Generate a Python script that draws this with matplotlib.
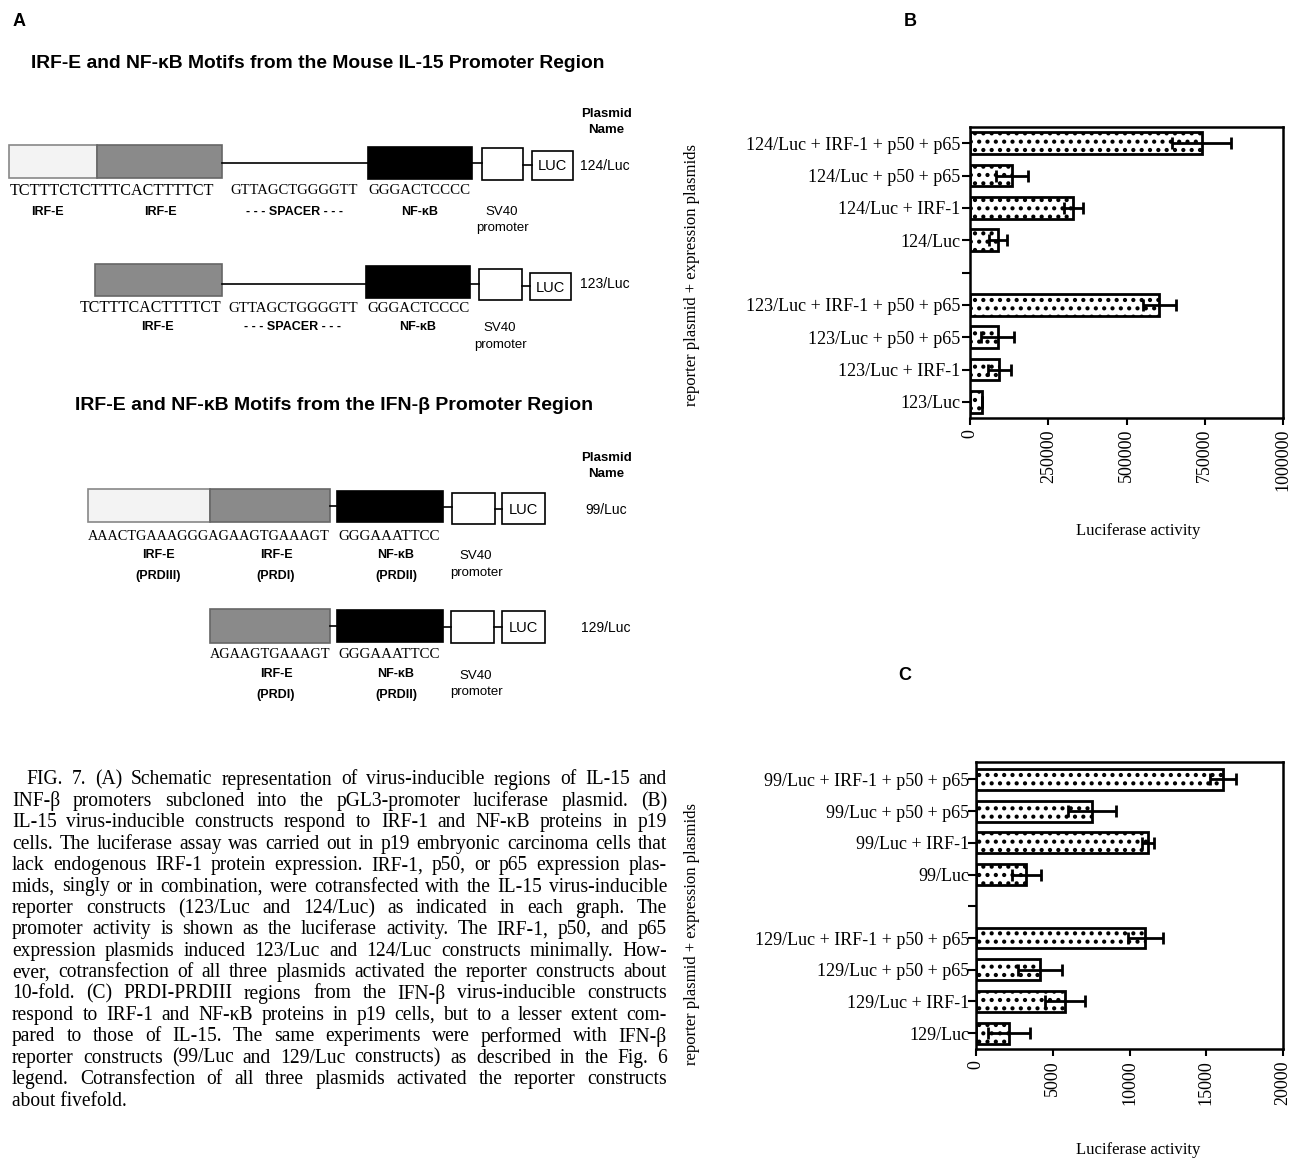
import numpy as np
import matplotlib.pyplot as plt
from matplotlib.patches import Rectangle

SERIF = 'Liberation Serif'
SANS = 'Liberation Sans'
plt.rcParams['hatch.linewidth'] = 1.8

# ---- panel B data (IL-15 constructs) ----
b_labels = ['124/Luc + IRF-1 + p50 + p65', '124/Luc + p50 + p65', '124/Luc + IRF-1', '124/Luc',
            '123/Luc + IRF-1 + p50 + p65', '123/Luc + p50 + p65', '123/Luc + IRF-1', '123/Luc']
b_values = [740000, 134000, 330000, 90000, 605000, 88000, 94000, 38000]
b_errors = [94000, 50000, 31000, 28000, 52000, 52000, 38000, 0]
b_ticks = [0, 250000, 500000, 750000, 1000000]

# ---- panel C data (IFN-beta constructs) ----
c_labels = ['99/Luc + IRF-1 + p50 + p65', '99/Luc + p50 + p65', '99/Luc + IRF-1', '99/Luc',
            '129/Luc + IRF-1 + p50 + p65', '129/Luc + p50 + p65', '129/Luc + IRF-1', '129/Luc']
c_values = [16100, 7560, 11210, 3280, 11030, 4170, 5810, 2140]
c_errors = [850, 1550, 400, 950, 1150, 1450, 1300, 1350]
c_ticks = [0, 5000, 10000, 15000, 20000]

caption = [
    "FIG. 7. (A) Schematic representation of virus-inducible regions of IL-15 and",
    "INF-\u03b2 promoters subcloned into the pGL3-promoter luciferase plasmid. (B)",
    "IL-15 virus-inducible constructs respond to IRF-1 and NF-\u03baB proteins in p19",
    "cells. The luciferase assay was carried out in p19 embryonic carcinoma cells that",
    "lack endogenous IRF-1 protein expression. IRF-1, p50, or p65 expression plas-",
    "mids, singly or in combination, were cotransfected with the IL-15 virus-inducible",
    "reporter constructs (123/Luc and 124/Luc) as indicated in each graph. The",
    "promoter activity is shown as the luciferase activity. The IRF-1, p50, and p65",
    "expression plasmids induced 123/Luc and 124/Luc constructs minimally. How-",
    "ever, cotransfection of all three plasmids activated the reporter constructs about",
    "10-fold. (C) PRDI-PRDIII regions from the IFN-\u03b2 virus-inducible constructs",
    "respond to IRF-1 and NF-\u03baB proteins in p19 cells, but to a lesser extent com-",
    "pared to those of IL-15. The same experiments were performed with IFN-\u03b2",
    "reporter constructs (99/Luc and 129/Luc constructs) as described in the Fig. 6",
    "legend. Cotransfection of all three plasmids activated the reporter constructs",
    "about fivefold.",
]

fig = plt.figure(figsize=(12.97, 11.61), dpi=100)
ax0 = fig.add_axes([0, 0, 1, 1])
ax0.set_xlim(0, 1297)
ax0.set_ylim(1161, 0)
ax0.axis('off')
renderer = fig.canvas.get_renderer()


def fit(x0, x1, y, s, **kw):
    t = ax0.text(x0, y, s, fontsize=10, va='center', **kw)
    w = t.get_window_extent(renderer).width
    t.set_fontsize(10 * (x1 - x0) / w)
    return t


def box(x0, x1, y0, y1, fc, ec='black', lw=1.2, label=None):
    ax0.add_patch(Rectangle((x0, y0), x1 - x0, y1 - y0, facecolor=fc, edgecolor=ec, linewidth=lw))
    if label:
        ax0.text((x0 + x1) / 2, (y0 + y1) / 2 + 1, label, ha='center', va='center',
                 fontsize=10.5, family=SANS)


def link(x0, x1, y):
    ax0.plot([x0, x1], [y, y], color='black', lw=1.2)


def lab(x, y, s, bold=True, fs=9):
    ax0.text(x, y, s, ha='center', va='center', fontsize=fs, family=SANS,
             fontweight='bold' if bold else 'normal')


LIGHT, MID = '#f3f3f3', '#8a8a8a'

# ---- panel A ----
ax0.text(19, 22, 'A', ha='center', va='center', fontsize=13, fontweight='bold', family=SANS)
fit(31, 605, 63, 'IRF-E and NF-\u03baB Motifs from the Mouse IL-15 Promoter Region',
    family=SANS, fontweight='bold')
lab(606, 114, 'Plasmid', fs=9.5)
lab(606, 130, 'Name', fs=9.5)

# 124/Luc
box(9, 97, 145, 178, LIGHT, ec='#888888')
box(97, 222, 145, 178, MID, ec='#666666')
link(222, 368, 163)
box(368, 472, 147, 179, 'black')
link(472, 482, 163)
box(482, 523, 148, 180, 'white')
link(523, 532, 165)
box(532, 573, 151, 180, 'white', label='LUC')
ax0.text(580, 166, '124/Luc', va='center', fontsize=10, family=SANS)
fit(10, 213, 191, 'TCTTTCTCTTTCACTTTTCT', family=SERIF)
fit(230, 357, 191, 'GTTAGCTGGGGTT', family=SERIF)
fit(368, 470, 191, 'GGGACTCCCC', family=SERIF)
lab(47, 212, 'IRF-E')
lab(160, 212, 'IRF-E')
lab(295, 212, '- - - SPACER - - -')
lab(420, 212, 'NF-\u03baB')
lab(502, 212, 'SV40', bold=False, fs=9.5)
lab(502, 228, 'promoter', bold=False, fs=9.5)

# 123/Luc
box(95, 222, 264, 296, MID, ec='#666666')
link(222, 366, 284)
box(366, 470, 266, 298, 'black')
link(470, 479, 284)
box(479, 522, 269, 300, 'white')
link(522, 530, 286)
box(530, 571, 273, 300, 'white', label='LUC')
ax0.text(580, 284, '123/Luc', va='center', fontsize=10, family=SANS)
fit(80, 220, 308, 'TCTTTCACTTTTCT', family=SERIF)
fit(228, 357, 308, 'GTTAGCTGGGGTT', family=SERIF)
fit(367, 470, 308, 'GGGACTCCCC', family=SERIF)
lab(157, 327, 'IRF-E')
lab(292, 327, '- - - SPACER - - -')
lab(418, 327, 'NF-\u03baB')
lab(500, 328, 'SV40', bold=False, fs=9.5)
lab(500, 345, 'promoter', bold=False, fs=9.5)

fit(75, 592, 406, 'IRF-E and NF-\u03baB Motifs from the IFN-\u03b2 Promoter Region',
    family=SANS, fontweight='bold')
lab(606, 458, 'Plasmid', fs=9.5)
lab(606, 474, 'Name', fs=9.5)

# 99/Luc
box(88, 210, 489, 522, LIGHT, ec='#888888')
box(210, 330, 489, 522, MID, ec='#666666')
link(330, 337, 506)
box(337, 443, 491, 522, 'black')
link(443, 452, 507)
box(452, 495, 493, 524, 'white')
link(495, 502, 509)
box(502, 545, 493, 524, 'white', label='LUC')
lab(606, 510, '99/Luc', bold=False, fs=10)
fit(88, 330, 536, 'AAACTGAAAGGGAGAAGTGAAAGT', family=SERIF)
fit(338, 440, 536, 'GGGAAATTCC', family=SERIF)
for x, top, bot in [(158, 'IRF-E', '(PRDIII)'), (276, 'IRF-E', '(PRDI)'), (396, 'NF-\u03baB', '(PRDII)')]:
    lab(x, 555, top)
    lab(x, 576, bot)
lab(476, 556, 'SV40', bold=False, fs=9.5)
lab(476, 573, 'promoter', bold=False, fs=9.5)

# 129/Luc
box(210, 330, 609, 643, MID, ec='#666666')
link(330, 337, 626)
box(337, 443, 610, 642, 'black')
link(443, 451, 627)
box(451, 494, 611, 643, 'white')
link(494, 502, 627)
box(502, 545, 611, 643, 'white', label='LUC')
lab(606, 628, '129/Luc', bold=False, fs=10)
fit(210, 330, 655, 'AGAAGTGAAAGT', family=SERIF)
fit(338, 440, 655, 'GGGAAATTCC', family=SERIF)
for x, top, bot in [(276, 'IRF-E', '(PRDI)'), (396, 'NF-\u03baB', '(PRDII)')]:
    lab(x, 674, top)
    lab(x, 695, bot)
lab(476, 676, 'SV40', bold=False, fs=9.5)
lab(476, 692, 'promoter', bold=False, fs=9.5)

# ---- caption, justified ----
cap_x0, cap_x1 = 12, 667
tmp = [ax0.text(0, 0, s, fontsize=12, family=SERIF) for s in caption]
widest = max(t.get_window_extent(renderer).width for t in tmp)
for t in tmp:
    t.remove()
cap_fs = 12 * (cap_x1 - cap_x0) / widest * 0.97
for i, line in enumerate(caption):
    y = 780 + i * 21.4
    x_start = 26 if i == 0 else cap_x0
    words = line.split(' ')
    if i == len(caption) - 1:
        ax0.text(x_start, y, line, va='center', fontsize=cap_fs, family=SERIF)
        continue
    ts = [ax0.text(0, y, w, va='center', fontsize=cap_fs, family=SERIF) for w in words]
    ws = [t.get_window_extent(renderer).width for t in ts]
    gap = (cap_x1 - x_start - sum(ws)) / (len(ws) - 1)
    x = x_start
    for t, w in zip(ts, ws):
        t.set_x(x)
        x += w + gap

ax0.text(910, 22, 'B', ha='center', va='center', fontsize=13, fontweight='bold', family=SANS)
ax0.text(905, 676, 'C', ha='center', va='center', fontsize=13, fontweight='bold', family=SANS)


# ---- bar panels ----
def bars(ax, labels, values, errors, ticks, ylim, ylab_xy, xlab_xy, pad):
    pos = np.r_[0:4, 5:9]
    ax.barh(pos, values, height=0.66, color='white', edgecolor='black', linewidth=2, hatch='..')
    ax.errorbar(values, pos, xerr=errors, fmt='none', ecolor='black', elinewidth=2,
                capsize=4.5, capthick=2)
    ax.set_yticks(range(9))
    ax.set_yticklabels(labels[:4] + [''] + labels[4:], fontsize=13, family=SERIF)
    ax.set_ylim(*ylim)
    ax.set_xlim(0, ticks[-1])
    ax.set_xticks(ticks)
    ax.set_xticklabels([str(t) for t in ticks], rotation=90, fontsize=13, family=SERIF)
    ax.tick_params(axis='y', length=6, width=1.5, pad=pad)
    ax.tick_params(axis='x', length=5, width=1.5, pad=3)
    for s in ax.spines.values():
        s.set_linewidth(1.8)
    ax.set_ylabel('reporter plasmid + expression plasmids', fontsize=12, family=SERIF)
    ax.yaxis.set_label_coords(*ylab_xy)
    ax.set_xlabel('Luciferase activity', fontsize=12, family=SERIF)
    ax.xaxis.set_label_coords(*xlab_xy)


axB = fig.add_axes([970 / 1297, 1 - 418 / 1161, 313 / 1297, 291 / 1161])
bars(axB, b_labels, b_values, b_errors, b_ticks, (8.5, -0.5), (-0.863, 0.49), (0.537, -0.361), 1)

axC = fig.add_axes([976 / 1297, 1 - 1049 / 1161, 307 / 1297, 287 / 1161])
bars(axC, c_labels, c_values, c_errors, c_ticks, (8.5, -0.55), (-0.899, 0.40), (0.528, -0.324), -1)

plt.savefig('out.png', dpi=100)
